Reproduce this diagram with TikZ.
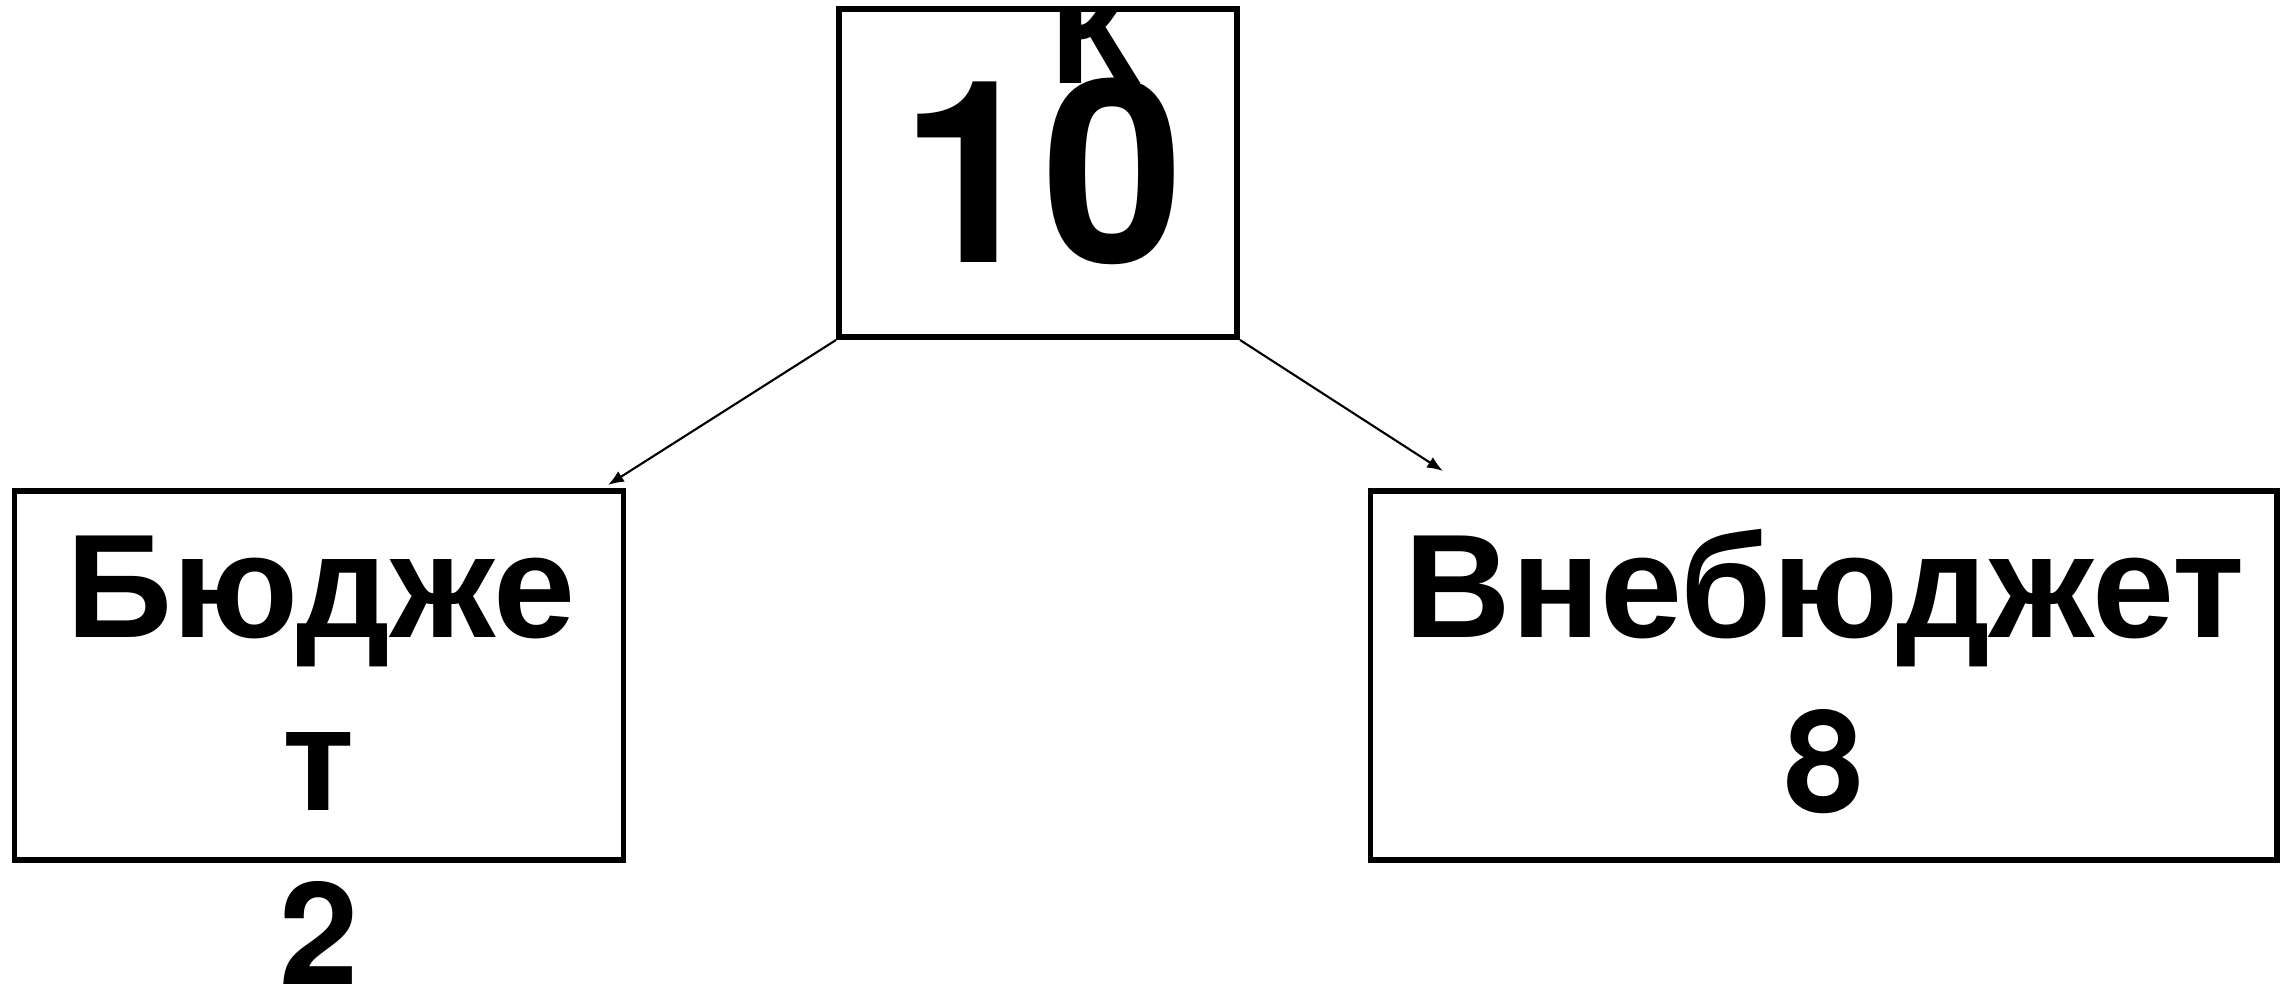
\documentclass[tikz,border=0pt]{standalone}
\usepackage{fontspec}
\setmainfont{Liberation Sans}
\newfontfamily\digitfont{TeX Gyre Heros}
\usepackage{tikz}
\usetikzlibrary{arrows.meta}

\begin{document}
\begin{tikzpicture}[
  box/.style={draw, black, line width=1.7pt, inner sep=0pt},
  lbl/.style={inner sep=0pt, anchor=base, font=\fontsize{42}{50}\selectfont\bfseries},
  num/.style={lbl, font=\fontsize{40.5}{48}\selectfont\digitfont\bfseries},
  big/.style={inner sep=0pt, anchor=base, font=\fontsize{72.5}{86}\selectfont\digitfont\bfseries},
  link/.style={black, line width=0.6pt, -{Latex[length=4.5pt,width=3.5pt]}}]
\useasboundingbox (0,0) rectangle (22.85,-9.86);
\node [box, minimum width=3.98cm, minimum height=3.28cm] (top) at (10.38,-1.73) {};
\node [box, minimum width=6.09cm, minimum height=3.685cm] (bud) at (3.19,-6.7525) {};
\node [box, minimum width=9.065cm, minimum height=3.685cm] (vne) at (18.2375,-6.7525) {};
% text spilling out of the top box
\begin{scope}
\clip ([shift={(0.03,-0.03)}]top.north west) rectangle ([shift={(-0.03,0.03)}]top.south east);
\node [lbl, anchor=base west] (k) at (10.50,-0.83) {К};
\end{scope}
\node [big] (ten) at (10.42,-2.62) {10};
\node [lbl] (bud1) at (3.21,-6.37) {Бюдже};
\node [lbl] (bud2) at (3.19,-8.10) {т};
\node [num] (two) at (3.19,-9.84) {2};
\node [lbl] (vne1) at (18.25,-6.37) {Внебюджет};
\node [num] (eight) at (18.24,-8.12) {8};
% arrow ends
\coordinate (lt) at (6.08,-4.85);
\coordinate (rt) at (14.43,-4.71);
\draw [link] (top.south west) -- (lt);
\draw [link] (top.south east) -- (rt);
\end{tikzpicture}
\end{document}
